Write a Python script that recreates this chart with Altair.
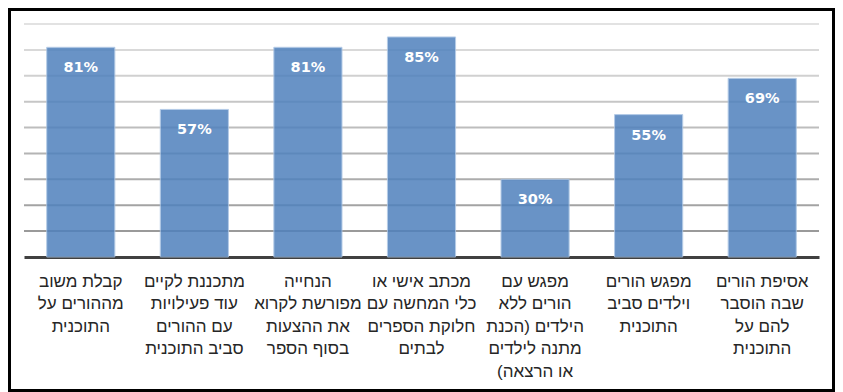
import altair as alt
import pandas as pd

categories = [
    "קבלת משוב\nמההורים  על\nהתוכנית",
    "מתכננת לקיים\nעוד פעילויות\nעם ההורים\nסביב התוכנית",
    "הנחייה\nמפורשת לקרוא\nאת ההצעות\nבסוף הספר",
    "מכתב אישי או\nכלי המחשה עם\nחלוקת הספרים\nלבתים",
    "מפגש עם\nהורים ללא\nהילדים (הכנת\nמתנה לילדים\nאו הרצאה)",
    "מפגש הורים\nוילדים סביב\nהתוכנית",
    "אסיפת הורים\nשבה הוסבר\nלהם על\nהתוכנית",
]
values = [81, 57, 81, 85, 30, 55, 69]
grid_values = [10, 20, 30, 40, 50, 60, 70, 80, 90]

RLM = "\u200f"
cat_rtl = ["\n".join(RLM + line + RLM for line in c.split("\n")) for c in categories]

df = pd.DataFrame({"cat": cat_rtl, "value": values, "label": [f"{v}%" for v in values]})
grid = pd.DataFrame({"g": grid_values})

W, H = 795, 233
TOTAL_W, TOTAL_H = 827, 384
PAD_L, PAD_T = 16, 16

yscale = alt.Scale(domain=[0, 90], nice=False, zero=True)

gridlines = alt.Chart(grid).mark_rule(strokeWidth=2).encode(
    y=alt.Y("g:Q", scale=yscale, axis=None),
    color=alt.Color("g:Q", scale=alt.Scale(domain=[10, 90], range=["#9a9a9a", "#e2e2e2"]), legend=None),
)

xenc = alt.X(
    "cat:N",
    sort=None,
    scale=alt.Scale(paddingInner=0.4, paddingOuter=0.2),
    axis=alt.Axis(
        title=None,
        labelAngle=0,
        labelExpr="split(datum.label, '\\n')",
        labelFont="Liberation Sans",
        labelFontSize=17,
        labelLineHeight=22.5,
        labelColor="#262626",
        labelPadding=16,
        labelBaseline="top",
        labelLimit=0,
        ticks=False,
        domainColor="#404040",
        domainWidth=3,
        grid=False,
    ),
)

bars = alt.Chart(df).mark_bar(
    color="#4f81bd", opacity=0.85, stroke="#a9c3e3", strokeWidth=1, strokeOpacity=1
).encode(
    x=xenc,
    y=alt.Y("value:Q", scale=yscale, axis=None),
)

labels = alt.Chart(df).mark_text(
    dy=21, baseline="middle", align="center", color="white",
    font="DejaVu Sans", fontWeight="bold", fontSize=14.5,
).encode(
    x=alt.X("cat:N", sort=None),
    y=alt.Y("value:Q", scale=yscale),
    text="label:N",
)

frame = alt.Chart(alt.Data(values=[{}])).mark_rect(
    fillOpacity=0, stroke="black", strokeWidth=3
).encode(
    x=alt.value(1.5 - PAD_L),
    x2=alt.value(TOTAL_W - 1.5 - PAD_L),
    y=alt.value(1.5 - PAD_T),
    y2=alt.value(TOTAL_H - 1.5 - PAD_T),
)

chart = alt.layer(gridlines, bars, labels, frame).properties(
    width=W, height=H,
    autosize=alt.AutoSizeParams(type="none"),
    padding={"left": PAD_L, "top": PAD_T, "right": TOTAL_W - PAD_L - W, "bottom": TOTAL_H - PAD_T - H},
).configure_view(stroke=None)

chart.save("out.html", embed_options={"renderer": "svg", "actions": False})
